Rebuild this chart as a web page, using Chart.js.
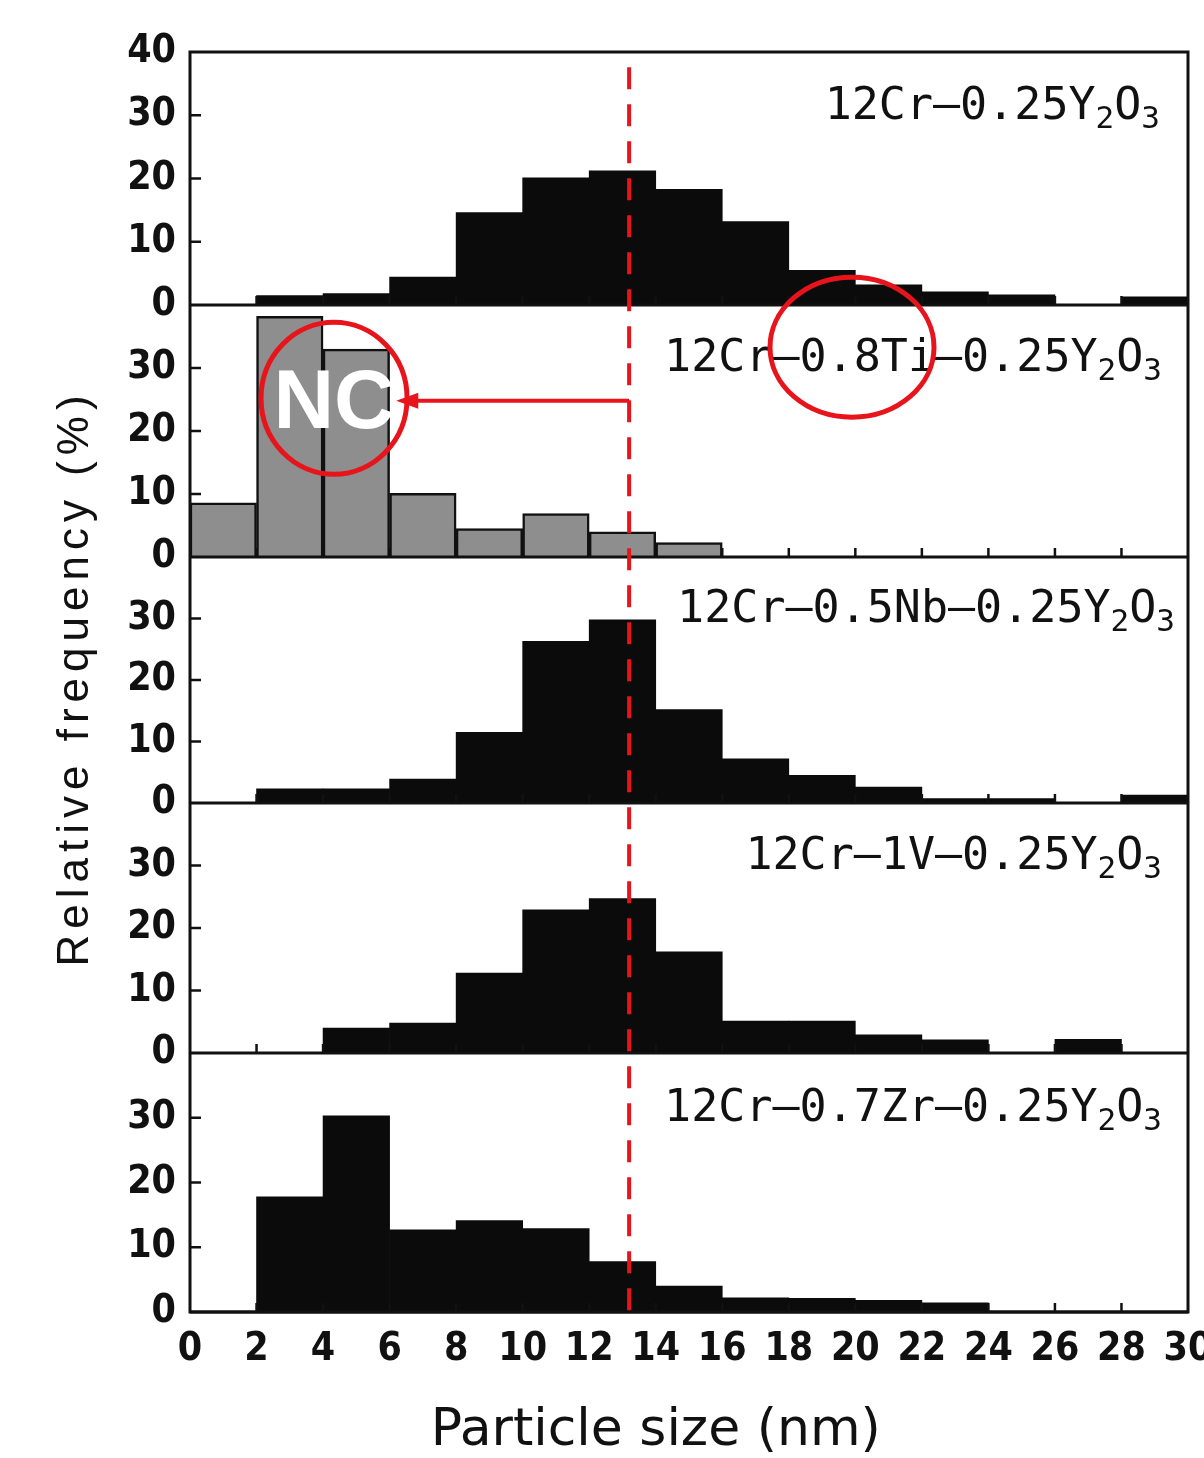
<!DOCTYPE html>
<html>
<head>
<meta charset="utf-8">
<script src="https://cdn.jsdelivr.net/npm/chart.js@4.4.1/dist/chart.umd.min.js"></script>
<style>
  html, body { margin: 0; padding: 0; background: #fff; }
  #wrap { width: 1204px; height: 1458px; }
</style>
</head>
<body>
<div id="wrap"><canvas id="chart" width="1204" height="1458"></canvas></div>
<script>
// bins of 2 nm, values are bin centres
const binCenters = [1, 3, 5, 7, 9, 11, 13, 15, 17, 19, 21, 23, 25, 27, 29];
const xTickValues = [0, 2, 4, 6, 8, 10, 12, 14, 16, 18, 20, 22, 24, 26, 28, 30];
const yTickValues = [0, 10, 20, 30, 40];

const alloyNames = [
    '12Cr—0.25Y₂O₃',
    '12Cr—0.8Ti—0.25Y₂O₃',
    '12Cr—0.5Nb—0.25Y₂O₃',
    '12Cr—1V—0.25Y₂O₃',
    '12Cr—0.7Zr—0.25Y₂O₃'
];

// relative frequency (%) per bin
const freqBase = [0, 1.5, 1.8, 4.4, 14.6, 20.1, 21.2, 18.3, 13.2, 5.5, 3.2, 2.1, 1.6, 0, 1.3];
const freqTi   = [8.6, 38.2, 33.0, 10.1, 4.5, 6.9, 4.0, 2.3, 0, 0, 0, 0, 0, 0, 0];
const freqNb   = [0, 2.3, 2.3, 3.9, 11.5, 26.3, 29.8, 15.2, 7.2, 4.5, 2.6, 0.7, 0.7, 0, 1.3];
const freqV    = [0, 0, 4.0, 4.8, 12.8, 22.9, 24.7, 16.2, 5.1, 5.1, 2.9, 2.1, 0, 2.2, 0];
const freqZr   = [0, 17.8, 30.3, 12.7, 14.1, 12.9, 7.8, 4.0, 2.2, 2.1, 1.8, 1.4, 0, 0, 0];
const seriesValues = [freqBase, freqTi, freqNb, freqV, freqZr];

const xTitle = 'Particle size (nm)';
const yTitle = 'Relative frequency (%)';
const ncText = 'NC';
const markerSize = 13.2; // red dashed line (nm)

// стилі панелей
const panelIds = ['y0', 'y1', 'y2', 'y3', 'y4'];
const panelWeights = [253, 252, 246, 250, 259];
const panelFill = ['#0b0b0b', '#8e8e8e', '#0b0b0b', '#0b0b0b', '#0b0b0b'];
const panelBorder = [0, 2.5, 0, 0, 0];
const labelRight = [1160, 1162, 1175, 1162, 1162];
const RED = '#e8141c';
const INK = '#111111';
const tickFont = { family: "'DejaVu Sans Condensed', 'DejaVu Sans', sans-serif", size: 39, weight: 'bold' };

const SUBS = '₀₁₂₃₄₅₆₇₈₉';

function drawFormula(ctx, text, right, cy) {
    const big = "45px 'DejaVu Sans Mono', monospace";
    const small = "31px 'DejaVu Sans Mono', monospace";
    const parts = [...text].map(ch => {
        const k = SUBS.indexOf(ch);
        return k >= 0 ? { t: String(k), sub: true } : { t: ch, sub: false };
    });
    let total = 0;
    parts.forEach(p => {
        ctx.font = p.sub ? small : big;
        p.w = ctx.measureText(p.t).width;
        total += p.w;
    });
    let x = right - total;
    const base = cy + 16;
    ctx.textAlign = 'left';
    ctx.textBaseline = 'alphabetic';
    parts.forEach(p => {
        ctx.font = p.sub ? small : big;
        ctx.fillText(p.t, x, p.sub ? base + 9 : base);
        x += p.w;
    });
}

const framePlugin = {
    id: 'frame',
    afterDatasetsDraw(chart) {
        const { ctx, chartArea: a, scales } = chart;
        const xs = scales.x;
        ctx.save();
        ctx.strokeStyle = INK;
        ctx.fillStyle = INK;
        ctx.lineWidth = 3;
        ctx.strokeRect(a.left, a.top, a.right - a.left, a.bottom - a.top);
        panelIds.forEach((id, i) => {
            const ys = scales[id];
            const base = ys.getPixelForValue(0);
            ctx.lineWidth = 3;
            ctx.beginPath();
            ctx.moveTo(a.left, base);
            ctx.lineTo(a.right, base);
            ctx.stroke();
            // короткі риски всередину
            ctx.lineWidth = 2.5;
            ctx.beginPath();
            yTickValues.forEach(v => {
                if (v > 0 && v < 40) {
                    const py = ys.getPixelForValue(v);
                    ctx.moveTo(a.left, py);
                    ctx.lineTo(a.left + 11, py);
                }
            });
            xTickValues.forEach(v => {
                if (v > 0 && v < 30) {
                    const px = xs.getPixelForValue(v);
                    ctx.moveTo(px, base);
                    ctx.lineTo(px, base - 9);
                }
            });
            ctx.stroke();
            drawFormula(ctx, alloyNames[i], labelRight[i], ys.getPixelForValue(32));
        });
        ctx.restore();
    },
    afterDraw(chart) {
        const { ctx, scales } = chart;
        const xs = scales.x;
        const y0 = scales.y0, y1 = scales.y1, y4 = scales.y4;
        ctx.save();

        // axis titles
        ctx.fillStyle = INK;
        ctx.textAlign = 'center';
        ctx.textBaseline = 'alphabetic';
        ctx.font = "52px 'DejaVu Sans', sans-serif";
        ctx.fillText(xTitle, xs.getPixelForValue(14), 1445);
        ctx.save();
        ctx.translate(88, 678);
        ctx.rotate(-Math.PI / 2);
        ctx.font = "44px 'Liberation Sans', Arial, sans-serif";
        if ('letterSpacing' in ctx) ctx.letterSpacing = '6px';
        ctx.fillText(yTitle, 0, 0);
        ctx.restore();

        // red dashed marker
        const mx = xs.getPixelForValue(markerSize);
        ctx.strokeStyle = RED;
        ctx.lineWidth = 4;
        ctx.setLineDash([22, 15]);
        ctx.beginPath();
        ctx.moveTo(mx, y0.getPixelForValue(37.6));
        ctx.lineTo(mx, y4.getPixelForValue(0));
        ctx.stroke();
        ctx.setLineDash([]);

        // arrow to NC
        const ay = y1.getPixelForValue(24.8);
        const tip = xs.getPixelForValue(6.2);
        ctx.beginPath();
        ctx.moveTo(mx, ay);
        ctx.lineTo(tip + 18, ay);
        ctx.stroke();
        ctx.fillStyle = RED;
        ctx.beginPath();
        ctx.moveTo(tip, ay);
        ctx.lineTo(tip + 22, ay - 8);
        ctx.lineTo(tip + 22, ay + 8);
        ctx.closePath();
        ctx.fill();

        // circles
        ctx.lineWidth = 5;
        const ncx = xs.getPixelForValue(4.33), ncy = y1.getPixelForValue(25.2);
        ctx.beginPath();
        ctx.ellipse(ncx, ncy, 73, 76, 0, 0, Math.PI * 2);
        ctx.stroke();
        ctx.beginPath();
        ctx.ellipse(xs.getPixelForValue(19.9), y1.getPixelForValue(33.3), 82, 70, 0, 0, Math.PI * 2);
        ctx.stroke();

        // NC
        ctx.fillStyle = '#ffffff';
        ctx.font = "bold 84px 'Liberation Sans', Arial, sans-serif";
        ctx.textAlign = 'center';
        ctx.fillText(ncText, ncx, ncy + 30);
        ctx.restore();
    }
};

const datasets = seriesValues.map((vals, i) => ({
    label: alloyNames[i],
    data: vals.map((v, k) => ({ x: binCenters[k], y: v })),
    yAxisID: panelIds[i],
    backgroundColor: panelFill[i],
    borderColor: INK,
    borderWidth: panelBorder[i],
    barPercentage: 1,
    categoryPercentage: 1,
    grouped: false
}));

const scales = {
    x: {
        type: 'linear',
        position: 'bottom',
        offset: false,
        min: 0,
        max: 30,
        grid: { display: false, drawTicks: false, offset: false },
        border: { display: false },
        afterBuildTicks: s => { s.ticks = xTickValues.map(v => ({ value: v })); },
        ticks: { font: tickFont, color: INK, padding: 14, maxRotation: 0, autoSkip: false },
        afterFit: s => { s.height = 146; s.paddingLeft = 0; s.paddingRight = 0; }
    }
};
panelIds.forEach((id, i) => {
    scales[id] = {
        type: 'linear',
        position: 'left',
        stack: 'panels',
        stackWeight: panelWeights[i],
        weight: panelIds.length - i,
        min: 0,
        max: 40,
        grid: { display: false, drawTicks: false },
        border: { display: false },
        afterBuildTicks: s => { s.ticks = yTickValues.map(v => ({ value: v })); },
        ticks: {
            font: tickFont,
            color: INK,
            padding: 14,
            autoSkip: false,
            callback: v => (i > 0 && v === 40) ? '' : String(v)
        },
        afterFit: s => { s.width = 190; }
    };
});

new Chart(document.getElementById('chart'), {
    type: 'bar',
    data: { datasets },
    options: {
        responsive: false,
        animation: false,
        events: [],
        layout: { padding: { top: 52, right: 16, left: 0, bottom: 0 } },
        plugins: { legend: { display: false }, tooltip: { enabled: false } },
        scales
    },
    plugins: [framePlugin]
});
</script>
</body>
</html>
